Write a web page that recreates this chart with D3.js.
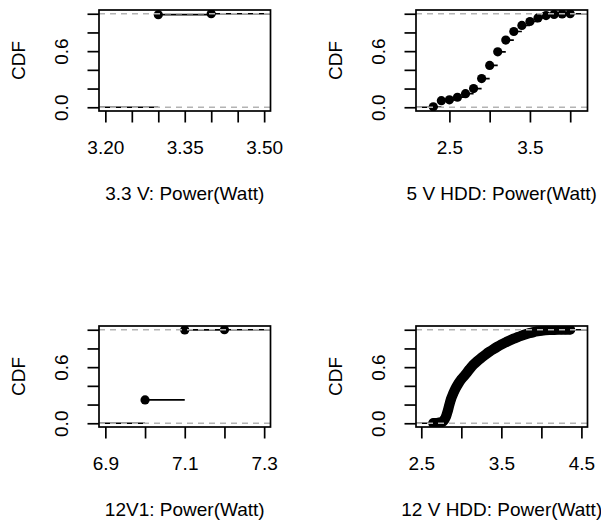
<!DOCTYPE html>
<html>
<head>
<meta charset="utf-8">
<script src="https://cdn.jsdelivr.net/npm/d3@7"></script>
<style>
  body { margin: 0; background: #fff; }
  svg text { font-family: "Liberation Sans", Arial, Helvetica, sans-serif; font-size: 19px; fill: #000; }
</style>
</head>
<body>
<div id="chart"></div>
<script>
// x axis titles of the four panels
const xTitles = ["3.3 V: Power(Watt)", "5 V HDD: Power(Watt)", "12V1: Power(Watt)", "12 V HDD: Power(Watt)"];

// ecdf knots and cdf level at each knot
const knots33 = [3.3, 3.4];
const cdf33 = [0.99, 1.0];

const knots5hdd = [2.3, 2.4, 2.5, 2.6, 2.7, 2.8, 2.9, 3.0, 3.1, 3.2, 3.3, 3.4, 3.5, 3.6, 3.7, 3.8, 3.9, 4.0];
const cdf5hdd = [0.005, 0.07, 0.08, 0.107, 0.145, 0.2, 0.307, 0.447, 0.593, 0.718, 0.81, 0.875, 0.917, 0.955, 0.98, 0.993, 0.998, 1.0];

const knots12v1 = [7.0, 7.1, 7.2];
const cdf12v1 = [0.25, 0.998, 1.0];

// this one has thousands of knots, the curve is read at a coarser step
const knots12hdd = [2.65, 2.68, 2.71, 2.74, 2.77, 2.79, 2.81, 2.83, 2.85, 2.87, 2.90, 2.93, 2.96, 3.00, 3.05,
    3.10, 3.15, 3.20, 3.25, 3.30, 3.35, 3.40, 3.45, 3.50, 3.55, 3.60, 3.65, 3.70, 3.75, 3.80,
    3.85, 3.90, 3.95, 4.00, 4.05, 4.10, 4.15, 4.20, 4.25, 4.30, 4.36];
const cdf12hdd = [0.001, 0.003, 0.006, 0.010, 0.020, 0.040, 0.075, 0.130, 0.195, 0.255, 0.320, 0.375, 0.420, 0.470, 0.520,
    0.575, 0.625, 0.665, 0.700, 0.733, 0.764, 0.792, 0.818, 0.842, 0.864, 0.884, 0.903, 0.920, 0.936, 0.950,
    0.963, 0.974, 0.983, 0.990, 0.995, 0.998, 0.999, 1.000, 1.000, 1.000, 1.000];

// axis ticks, empty string = label dropped by R because of overlap
const xTicks33 = [3.20, 3.25, 3.30, 3.35, 3.40, 3.45, 3.50];
const xTickLabels33 = ["3.20", "", "", "3.35", "", "", "3.50"];
const xTicks5hdd = [2.5, 3.0, 3.5, 4.0];
const xTickLabels5hdd = ["2.5", "", "3.5", ""];
const xTicks12v1 = [6.9, 7.0, 7.1, 7.2, 7.3];
const xTickLabels12v1 = ["6.9", "", "7.1", "", "7.3"];
const xTicks12hdd = [2.5, 3.0, 3.5, 4.0, 4.5];
const xTickLabels12hdd = ["2.5", "", "3.5", "", "4.5"];
const yTicks = [0, 0.2, 0.4, 0.6, 0.8, 1.0];
const yTickLabels = ["0.0", "", "", "0.6", "", ""];

const width = 601, height = 521;
const boxW = 171.5, boxH = 101;
const tickLen = 11.5;
const lw = 1.7;
const dotR = 4.6;

const svg = d3.select("#chart").append("svg")
    .attr("width", width)
    .attr("height", height);

const panels = [
    { left: 99, top: 10, knots: knots33, cdf: cdf33, ticks: xTicks33, labels: xTickLabels33, title: xTitles[0] },
    { left: 416, top: 10, knots: knots5hdd, cdf: cdf5hdd, ticks: xTicks5hdd, labels: xTickLabels5hdd, title: xTitles[1] },
    { left: 99, top: 326, knots: knots12v1, cdf: cdf12v1, ticks: xTicks12v1, labels: xTickLabels12v1, title: xTitles[2] },
    { left: 416, top: 326, knots: knots12hdd, cdf: cdf12hdd, ticks: xTicks12hdd, labels: xTickLabels12hdd, title: xTitles[3], dense: true }
];

panels.forEach((p, i) => drawPanel(p, i));

function drawPanel(p, i) {
    // xlim like plot.stepfun: knot range widened, then R's 4% axis padding
    const lo = d3.min(p.knots), hi = d3.max(p.knots);
    const ext = Math.max(0.08 * (hi - lo), d3.median(d3.pairs(p.knots, (a, b) => b - a)));
    const xlim = [lo - ext, hi + ext];
    const pad = 0.04 * (xlim[1] - xlim[0]);

    const x = d3.scaleLinear()
        .domain([xlim[0] - pad, xlim[1] + pad])
        .range([p.left, p.left + boxW]);
    const y = d3.scaleLinear()
        .domain([-0.04, 1.04])
        .range([p.top + boxH, p.top]);

    const g = svg.append("g");

    g.append("clipPath")
        .attr("id", "clip" + i)
        .append("rect")
        .attr("x", p.left)
        .attr("y", p.top)
        .attr("width", boxW)
        .attr("height", boxH);

    const plot = g.append("g").attr("clip-path", `url(#clip${i})`);

    // horizontal steps of the ecdf
    const dom = x.domain();
    const steps = [{ x0: dom[0], x1: p.knots[0], f: 0 }];
    p.knots.forEach((k, j) => {
        steps.push({ x0: k, x1: j < p.knots.length - 1 ? p.knots[j + 1] : dom[1], f: p.cdf[j] });
    });

    plot.selectAll(".step")
        .data(steps)
        .join("line")
        .attr("x1", d => x(d.x0))
        .attr("x2", d => x(d.x1))
        .attr("y1", d => y(d.f))
        .attr("y2", d => y(d.f))
        .attr("stroke", "black")
        .attr("stroke-width", lw);

    const pts = p.knots.map((k, j) => [k, p.cdf[j]]);

    // so many points that they melt into one thick band
    if (p.dense) {
        plot.append("path")
            .datum(pts)
            .attr("d", d3.line().x(d => x(d[0])).y(d => y(d[1])).curve(d3.curveMonotoneX))
            .attr("fill", "none")
            .attr("stroke", "black")
            .attr("stroke-width", dotR * 2 + 1)
            .attr("stroke-linecap", "round")
            .attr("stroke-linejoin", "round");
    }

    plot.selectAll(".pt")
        .data(pts)
        .join("circle")
        .attr("cx", d => x(d[0]))
        .attr("cy", d => y(d[1]))
        .attr("r", dotR)
        .attr("fill", "black");

    // grey dashed lines at 0 and 1
    plot.selectAll(".hline")
        .data([0, 1])
        .join("line")
        .attr("x1", p.left)
        .attr("x2", p.left + boxW)
        .attr("y1", d => y(d))
        .attr("y2", d => y(d))
        .attr("stroke", "#b3b3b3")
        .attr("stroke-width", 1.5)
        .attr("stroke-dasharray", "6,5");

    // box
    g.append("rect")
        .attr("x", p.left)
        .attr("y", p.top)
        .attr("width", boxW)
        .attr("height", boxH)
        .attr("fill", "none")
        .attr("stroke", "black")
        .attr("stroke-width", lw);

    // x axis
    const xAxis = g.append("g")
        .attr("transform", `translate(0,${p.top + boxH})`)
        .call(d3.axisBottom(x)
            .tickValues(p.ticks)
            .tickFormat((d, j) => p.labels[j])
            .tickSizeInner(tickLen)
            .tickSizeOuter(0)
            .tickPadding(17.6));
    xAxis.select(".domain").remove();
    xAxis.attr("font-size", null).attr("font-family", null);
    xAxis.selectAll("line").attr("stroke-width", lw);

    // y axis, labels parallel to the axis
    const yAxis = g.append("g")
        .attr("transform", `translate(${p.left},0)`)
        .call(d3.axisLeft(y)
            .tickValues(yTicks)
            .tickFormat((d, j) => yTickLabels[j])
            .tickSizeInner(tickLen)
            .tickSizeOuter(0));
    yAxis.select(".domain").remove();
    yAxis.attr("font-size", null).attr("font-family", null);
    yAxis.selectAll("line").attr("stroke-width", lw);
    yAxis.selectAll("text")
        .attr("x", null)
        .attr("dy", null)
        .attr("text-anchor", "middle")
        .attr("transform", "translate(-30.7,0) rotate(-90)");

    // axis titles
    g.append("text")
        .attr("x", p.left + boxW / 2)
        .attr("y", p.top + boxH + 89)
        .attr("text-anchor", "middle")
        .text(p.title);

    g.append("text")
        .attr("transform", `translate(${p.left - 74},${p.top + boxH / 2}) rotate(-90)`)
        .attr("text-anchor", "middle")
        .text("CDF");
}
</script>
</body>
</html>
